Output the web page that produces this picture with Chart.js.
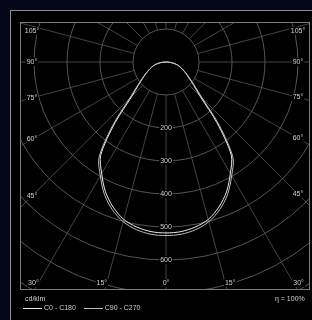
<!DOCTYPE html>
<html>
<head>
<meta charset="utf-8">
<script src="https://cdn.jsdelivr.net/npm/chart.js@4/dist/chart.umd.min.js"></script>
<style>
  html, body { margin: 0; padding: 0; background: #06061a; width: 312px; height: 320px; overflow: hidden; }
  #panel { position: absolute; left: 10px; top: 10px; width: 320px; height: 330px; background: #000; border-left: 1px solid #8c8c8c; border-top: 1px solid #8c8c8c; }
  #plot { position: absolute; left: 20px; top: 22px; width: 290px; height: 268px; }
  .txt { position: absolute; font-family: "Liberation Sans", Arial, sans-serif; font-size: 7px; color: #cfcfcf; white-space: nowrap; will-change: transform; }
  .key { display: inline-block; width: 19px; border-top: 1px solid #e6e6e6; vertical-align: middle; margin-right: 2px; }
</style>
</head>
<body>
<div id="panel"></div>
<div id="plot"><canvas id="ldc"></canvas></div>
<div class="txt" style="left:25px; top:295px;">cd/klm</div>
<div class="txt" style="left:23px; top:304px;"><span class="key"></span>C0 - C180 &nbsp;&nbsp;&nbsp;<span class="key" style="border-color:#bdbdbd"></span>C90 - C270</div>
<div class="txt" style="right:7px; top:295px;">η = 100%</div>
<script>
// gamma angles (deg from nadir) and intensities in cd/klm
const gammaDeg = [0, 5, 10, 15, 20, 25, 30, 35, 40, 45, 50, 55, 60, 65, 70, 75, 80, 85, 90];
const c0c180 = [518, 516, 508, 494, 468, 434, 390, 345, 240, 145, 110, 86, 70, 57, 46, 36, 24, 12, 0];
const c90c270 = [526, 524, 516, 501, 476, 442, 398, 354, 252, 156, 114, 89, 72, 58, 47, 37, 25, 12, 0];

const ringValues = [100, 200, 300, 400, 500, 600, 700, 800, 900];
const ringLabels = ['200', '300', '400', '500', '600'];
const sideAngles = [105, 90, 75, 60, 45];
const bottomAngles = [30, 15, 0];

const UNIT = 100 / 33; // cd/klm per pixel

const toPoints = (vals) => {
    const pts = [];
    for (let i = gammaDeg.length - 1; i >= 0; i--) {
        const a = gammaDeg[i] * Math.PI / 180;
        pts.push({ x: -vals[i] * Math.sin(a), y: -vals[i] * Math.cos(a) });
    }
    for (let i = 1; i < gammaDeg.length; i++) {
        const a = gammaDeg[i] * Math.PI / 180;
        pts.push({ x: vals[i] * Math.sin(a), y: -vals[i] * Math.cos(a) });
    }
    return pts;
};

const polarGrid = {
    id: 'polarGrid',
    beforeDatasetsDraw(chart) {
        const { ctx, chartArea: area, scales: { x, y } } = chart;
        const cx = x.getPixelForValue(0);
        const cy = y.getPixelForValue(0);
        const px = (v) => x.getPixelForValue(v) - cx;
        ctx.save();
        ctx.beginPath();
        ctx.rect(area.left, area.top, area.right - area.left, area.bottom - area.top);
        ctx.clip();
        // radial lines every 15 deg, starting at the first ring
        ctx.strokeStyle = '#444';
        ctx.lineWidth = 1;
        for (let d = 0; d < 360; d += 15) {
            const a = d * Math.PI / 180;
            const r0 = px(ringValues[0]);
            const r1 = px(1200);
            ctx.beginPath();
            ctx.moveTo(cx + r0 * Math.sin(a), cy + r0 * Math.cos(a));
            ctx.lineTo(cx + r1 * Math.sin(a), cy + r1 * Math.cos(a));
            ctx.stroke();
        }
        ctx.strokeStyle = '#555';
        ringValues.forEach(v => {
            ctx.beginPath();
            ctx.arc(cx, cy, px(v), 0, Math.PI * 2);
            ctx.stroke();
        });
        ctx.restore();
    },
    afterDraw(chart) {
        const { ctx, chartArea: area, scales: { x, y } } = chart;
        const cx = x.getPixelForValue(0);
        const cy = y.getPixelForValue(0);
        ctx.save();
        ctx.font = '7px "Liberation Sans", Arial, sans-serif';
        ctx.textBaseline = 'middle';
        ctx.textAlign = 'center';
        const label = (text, tx, ty) => {
            const w = ctx.measureText(text).width;
            ctx.fillStyle = '#000';
            ctx.fillRect(tx - w / 2 - 1, ty - 4, w + 2, 8);
            ctx.fillStyle = '#d0d0d0';
            ctx.fillText(text, tx, ty);
        };
        ringLabels.forEach(t => label(t, cx, y.getPixelForValue(-Number(t))));
        // side labels sit on their radial lines near the frame
        sideAngles.forEach(d => {
            const a = d * Math.PI / 180;
            const dxL = cx - (area.left + 12);
            const dxR = (area.right - 12) - cx;
            let tyL = d === 90 ? cy : cy + dxL / Math.tan(a);
            let tyR = d === 90 ? cy : cy + dxR / Math.tan(a);
            tyL = Math.max(tyL, area.top + 9);
            tyR = Math.max(tyR, area.top + 9);
            label(d + '°', area.left + 12, tyL);
            label(d + '°', area.right - 12, tyR);
        });
        const by = area.bottom - 7;
        bottomAngles.forEach(d => {
            const off = (by - cy) * Math.tan(d * Math.PI / 180);
            const nudge = d === 0 ? 0 : 5;
            label(d + '°', cx - off - nudge, by);
            if (d !== 0) label(d + '°', cx + off + nudge, by);
        });
        // plot frame
        ctx.strokeStyle = '#7a7a7a';
        ctx.strokeRect(area.left + 0.5, area.top + 0.5, area.right - area.left - 1, area.bottom - area.top - 1);
        ctx.restore();
    }
};

new Chart(document.getElementById('ldc'), {
    type: 'scatter',
    data: {
        datasets: [
            {
                label: 'C90 - C270',
                data: toPoints(c90c270),
                showLine: true,
                borderColor: '#bdbdbd',
                borderWidth: 1,
                pointRadius: 0,
                tension: 0.3
            },
            {
                label: 'C0 - C180',
                data: toPoints(c0c180),
                showLine: true,
                borderColor: '#ececec',
                borderWidth: 1,
                pointRadius: 0,
                tension: 0.3
            }
        ]
    },
    options: {
        responsive: true,
        maintainAspectRatio: false,
        animation: false,
        layout: { padding: 0 },
        plugins: { legend: { display: false }, tooltip: { enabled: false } },
        scales: {
            x: { type: 'linear', display: false, min: -146 * UNIT, max: 144 * UNIT },
            y: { type: 'linear', display: false, min: -228 * UNIT, max: 40 * UNIT }
        }
    },
    plugins: [polarGrid]
});
</script>
</body>
</html>
